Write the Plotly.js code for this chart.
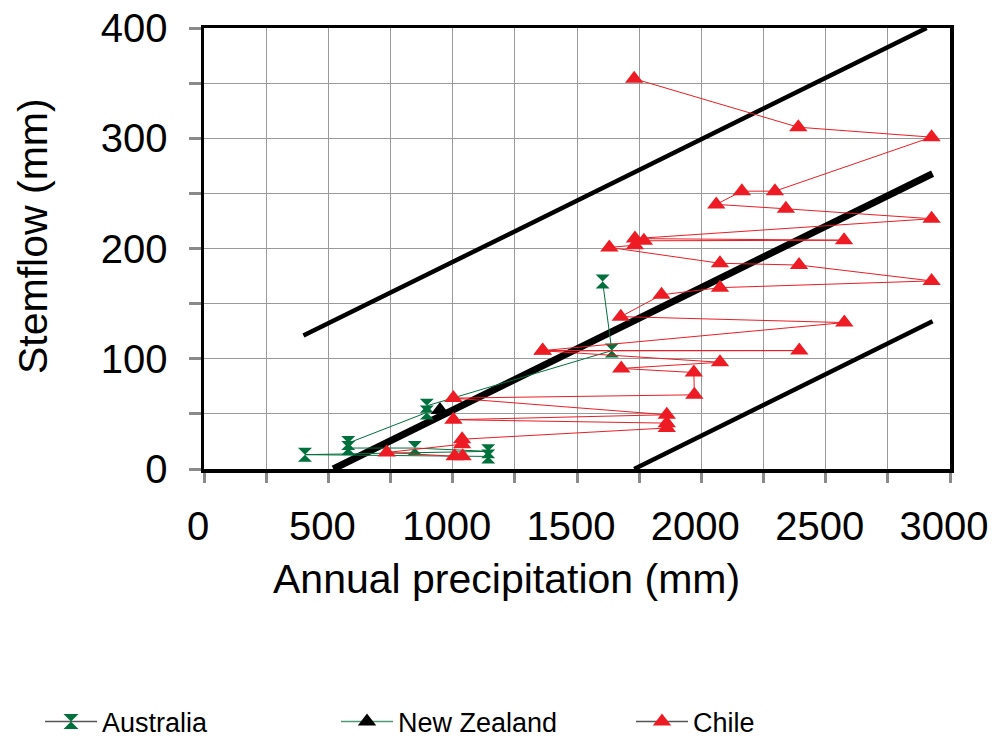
<!DOCTYPE html>
<html>
<head>
<meta charset="utf-8">
<script src="https://cdn.plot.ly/plotly-3.0.1.min.js"></script>
<style>html,body{margin:0;padding:0;background:#fff;}#chart{width:996px;height:738px;}</style>
</head>
<body>
<div id="chart"></div>
<script>
// ---- data ----
const australiaX = [1603, 1640, 896, 896, 580, 580, 848, 1143, 406, 1143];
const australiaY = [170, 107.4, 57.3, 51.3, 23.5, 19, 19, 16, 13, 11.4];

const newZealandX = [949];
const newZealandY = [53.5];

const chileX = [1730, 2390, 2926, 2296, 2163, 2060, 2340, 2926, 1733, 2574, 1769, 1733, 1630,
                2075, 2393, 2926, 2075, 1840, 1676, 2575, 1362, 2394, 1362, 2075, 1678, 1970,
                1972, 1003, 1861, 1003, 1861, 1861, 1038, 1038, 735, 1008, 1040];
const chileY = [354, 310, 301, 252, 252, 240, 236, 227, 209, 207.5, 207, 203, 201,
                186.6, 185, 170.6, 164.5, 158, 138.2, 132.8, 107.4, 107.4, 107.2, 96.8, 91.2, 87.5,
                67.3, 64.3, 49.2, 44.7, 41.6, 37.2, 27, 22.5, 15, 11.5, 11.5];

// regression line and its upper / lower bounds
const fitX = [520, 2930];
const fitY = [0, 268];
const upperX = [400, 2906];
const upperY = [121, 400];
const lowerX = [1730, 2930];
const lowerY = [0, 134];

// axis ticks
const xTickVals = [0, 250, 500, 750, 1000, 1250, 1500, 1750, 2000, 2250, 2500, 2750, 3000];
const xTickText = ['0', '', '500', '', '1000', '', '1500', '', '2000', '', '2500', '', '3000'];
const yTickVals = [0, 50, 100, 150, 200, 250, 300, 350, 400];
const yTickText = ['0', '', '100', '', '200', '', '300', '', '400'];

const seriesNames = ['Australia', 'New Zealand', 'Chile'];

// ---- styling ----
const FONT = 'Liberation Sans, Arial, Helvetica, sans-serif';
const GREEN = '#00703c';
const RED = '#ed1c24';

const traces = [
  {x: upperX, y: upperY, mode: 'lines', line: {color: '#000', width: 4.5}, showlegend: false, hoverinfo: 'skip'},
  {x: lowerX, y: lowerY, mode: 'lines', line: {color: '#000', width: 4.5}, showlegend: false, hoverinfo: 'skip'},
  {x: fitX, y: fitY, mode: 'lines', line: {color: '#000', width: 7}, showlegend: false, hoverinfo: 'skip'},
  {x: australiaX, y: australiaY, name: seriesNames[0], mode: 'lines+markers',
   line: {color: GREEN, width: 1},
   marker: {symbol: 'hourglass', size: 14, color: GREEN}, showlegend: false},
  {x: chileX, y: chileY, name: seriesNames[2], mode: 'lines+markers',
   line: {color: RED, width: 1},
   marker: {symbol: 'triangle-up', size: 16, color: RED}, showlegend: false},
  {x: newZealandX, y: newZealandY, name: seriesNames[1], mode: 'lines+markers',
   line: {color: '#4f9a72', width: 1},
   marker: {symbol: 'triangle-up', size: 16, color: '#000'}, showlegend: false},
  // legend entries
  {x: [null], y: [null], name: seriesNames[0], mode: 'lines+markers', legend: 'legend',
   line: {color: '#555', width: 1.5}, marker: {symbol: 'hourglass', size: 15, color: GREEN}},
  {x: [null], y: [null], name: seriesNames[1], mode: 'lines+markers', legend: 'legend2',
   line: {color: '#4f9a72', width: 1.5}, marker: {symbol: 'triangle-up', size: 17, color: '#000'}},
  {x: [null], y: [null], name: seriesNames[2], mode: 'lines+markers', legend: 'legend3',
   line: {color: '#555', width: 1.5}, marker: {symbol: 'triangle-up', size: 17, color: RED}}
];

const axisCommon = {
  showgrid: true, gridcolor: '#9a9a9a', gridwidth: 1,
  showline: true, linecolor: '#000', linewidth: 3.5, mirror: true,
  ticks: 'outside', tickcolor: '#8a8a8a', tickwidth: 3,
  zeroline: false, tickmode: 'array',
  tickfont: {family: FONT, size: 40, color: '#000'}
};

function legendAt(px) {
  return {
    orientation: 'h', xref: 'container', yref: 'container',
    x: px / 996, y: 16 / 738, xanchor: 'left', yanchor: 'middle',
    itemwidth: 52,
    font: {family: FONT, size: 27, color: '#000'},
    bgcolor: 'rgba(0,0,0,0)', borderwidth: 0
  };
}

const layout = {
  width: 996, height: 738,
  margin: {l: 204, r: 46, t: 28, b: 269},
  paper_bgcolor: '#fff', plot_bgcolor: '#fff',
  font: {family: FONT, color: '#000'},
  xaxis: Object.assign({}, axisCommon, {
    range: [0, 3000], tickvals: xTickVals, ticktext: xTickText,
    ticklen: 10, ticklabelstandoff: 9, ticklabelshift: -6
  }),
  yaxis: Object.assign({}, axisCommon, {
    range: [0, 400], tickvals: yTickVals, ticktext: yTickText,
    ticklen: 12, ticklabelstandoff: 13
  }),
  annotations: [
    {text: 'Annual precipitation (mm)', xref: 'paper', yref: 'paper',
     x: (506 - 204) / 746, y: (469 - 579) / 441, xanchor: 'center', yanchor: 'middle',
     showarrow: false, font: {family: FONT, size: 41, color: '#000'}},
    {text: 'Stemflow (mm)', xref: 'paper', yref: 'paper', textangle: -90,
     x: (33 - 204) / 746, y: (469 - 236) / 441, xanchor: 'center', yanchor: 'middle',
     showarrow: false, font: {family: FONT, size: 41, color: '#000'}}
  ],
  legend: legendAt(40),
  legend2: legendAt(336),
  legend3: legendAt(631),
  showlegend: true
};

Plotly.newPlot('chart', traces, layout, {staticPlot: true, displayModeBar: false});
</script>
</body>
</html>
